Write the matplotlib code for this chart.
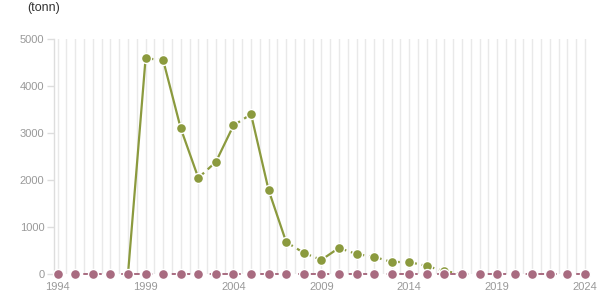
import numpy as np
import matplotlib
matplotlib.use('Agg')
import matplotlib.pyplot as plt

# Data
years = list(range(1994, 2025))

green_years = list(range(1998, 2018))
green_values = [0, 4590, 4550, 3100, 2045, 2385, 3160, 3400, 1785, 680,
                450, 300, 555, 425, 365, 255, 255, 170, 60, 5]
# True where the segment leading to that point is drawn dashed
green_dashed = [False, False, True, False, False, True, False, True, False, False,
                True, True, False, True, True, True, True, True, True, True]

pink_values = [0] * len(years)

y_ticks = [0, 1000, 2000, 3000, 4000, 5000]
x_ticks = [1994, 1999, 2004, 2009, 2014, 2019, 2024]

green = '#8b9a3e'
pink = '#a86b80'
label_color = '#999999'

plt.rcParams['font.family'] = ['Liberation Sans', 'DejaVu Sans']

fig = plt.figure(figsize=(6.15, 3.05), dpi=100)
ax = fig.add_axes([54 / 615, 31 / 305, 536 / 615, 235 / 305])

x_left = 1994 - 3.7 / 17.58
x_right = 2024 + 5 / 17.58
ax.set_xlim(x_left, x_right)
ax.set_ylim(0, 5000)

# vertical grid every half year
for gx in np.arange(1994, 2024.01, 0.5):
    ax.axvline(gx, color='#e9e9e9', lw=1, zorder=0)

# green series, segment by segment
for i in range(1, len(green_years)):
    ls = (0, (3.5, 2.2)) if green_dashed[i] else '-'
    ax.plot(green_years[i - 1:i + 1], green_values[i - 1:i + 1],
            color=green, lw=1.6, ls=ls, zorder=2, solid_capstyle='butt')
ax.plot(green_years[1:-1], green_values[1:-1], ls='none', marker='o',
        ms=7.2, mfc=green, mec='white', mew=1, zorder=3, clip_on=False)

# pink series (all zero)
ax.plot(years, pink_values, color=pink, lw=1.4, ls=(0, (3, 3.5)),
        marker='o', ms=7.2, mfc=pink, mec='white', mew=1, zorder=4, clip_on=False)

for side in ['top', 'right', 'bottom']:
    ax.spines[side].set_visible(False)
ax.spines['left'].set_color('#dddddd')
ax.spines['left'].set_linewidth(1)

ax.set_yticks(y_ticks)
ax.set_yticklabels([str(v) for v in y_ticks])
ax.set_xticks(x_ticks)
ax.set_xticklabels([str(v) for v in x_ticks])
ax.tick_params(axis='y', length=5, width=1, color='#dddddd',
               labelcolor=label_color, labelsize=8, pad=2)
ax.tick_params(axis='x', length=0, labelcolor=label_color, labelsize=8, pad=6)

fig.text(27 / 615, 1 - 8 / 305, '(tonn)', fontsize=9, color='#333333',
         ha='left', va='center')

fig.savefig('out.png', dpi=100)
